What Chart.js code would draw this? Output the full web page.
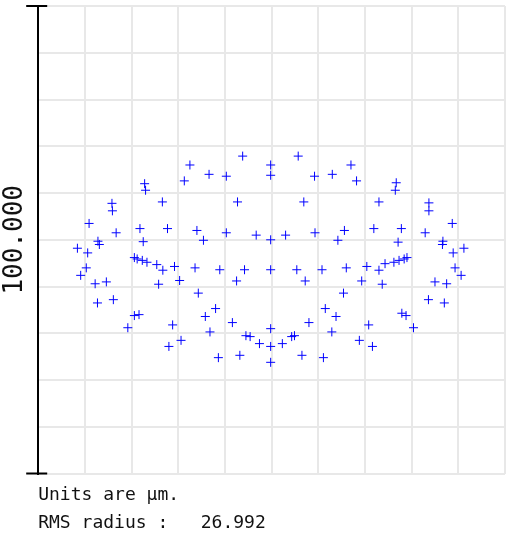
<!DOCTYPE html>
<html>
<head>
<meta charset="utf-8">
<script src="https://cdn.jsdelivr.net/npm/chart.js@4/dist/chart.umd.min.js"></script>
<style>
    body { margin: 0; background: #fff; }
</style>
</head>
<body>
<canvas id="spotDiagram" width="511" height="534"></canvas>
<script>
// spot positions in µm
const spotX = [
    -6.2, 5.7,
    -17.5, -0.2, 17.0,
    -13.4, 13.0,
    -9.7, 9.2,
    -0.2,
    -18.7, 18.2,
    -27.2, 26.7,
    -27.0, 26.5,
    -23.4, 23.0,
    -7.3, 6.9,
    -34.2, 33.7,
    -34.1, 33.7,
    -39.1, 38.7,
    -28.2, 27.8,
    -22.3, 21.9,
    -33.3, 32.9,
    -16.0, 15.6,
    -9.7, 9.3,
    -3.3, 3.0,
    -0.2,
    -14.6, 14.2,
    -27.5, 27.1,
    -37.2, 36.7,
    -36.9, 36.6,
    -41.6, 41.2,
    -39.4, 38.9,
    -29.4, 29.0,
    -28.8, 28.4,
    -27.7, 27.3,
    -26.7, 26.2,
    -24.6, 24.3,
    -23.3, 23.0,
    -20.8, 20.4,
    -16.4, 16.0,
    -11.1, 10.8,
    -5.8, 5.4,
    -0.2,
    -39.7, 39.3,
    -40.9, 40.6,
    -35.4, 35.0,
    -37.8, 37.5,
    -24.2, 23.7,
    -19.7, 19.3,
    -7.5, 7.2,
    -15.7, 15.4,
    -37.3, 37.0,
    -33.9, 33.6,
    -12.0, 11.5,
    -14.2, 13.8,
    -29.4, 28.8,
    -28.4, 27.9,
    -8.4, 8.0,
    -21.2, 20.8,
    -30.8, 30.4,
    -0.2,
    -13.2, 12.9,
    -5.5, 4.9,
    -4.6, 4.3,
    -2.6, 2.3,
    -0.2,
    -19.4, 18.8,
    -22.0, 21.6,
    -6.8, 6.5,
    -11.4, 11.1,
    -0.2
];
const spotY = [
    17.9, 17.9,
    16.0, 16.0, 16.0,
    14.0, 14.0,
    13.6, 13.6,
    13.8,
    12.6, 12.6,
    12.0, 12.2,
    10.6, 10.6,
    8.1, 8.1,
    8.1, 8.1,
    7.8, 7.9,
    6.2, 6.2,
    3.5, 3.5,
    2.4, 2.4,
    2.4, 2.4,
    1.5, 1.5,
    2.0, 2.0,
    1.5, 1.5,
    1.0, 1.0,
    0.0,
    -0.1, -0.1,
    -0.4, -0.5,
    -0.3, -0.3,
    -1.0, -1.0,
    -1.8, -1.8,
    -2.8, -2.8,
    -3.8, -3.8,
    -4.1, -4.1,
    -4.4, -4.4,
    -4.8, -4.8,
    -5.3, -5.1,
    -6.5, -6.5,
    -5.7, -5.7,
    -6.0, -6.0,
    -6.4, -6.4,
    -6.4, -6.4,
    -6.4,
    -6.0, -6.0,
    -7.6, -7.6,
    -9.0, -9.0,
    -9.4, -9.4,
    -9.5, -9.5,
    -8.7, -8.8,
    -8.8, -8.8,
    -11.4, -11.4,
    -13.5, -13.5,
    -12.8, -12.8,
    -14.7, -14.7,
    -16.4, -16.4,
    -16.2, -16.2,
    -16.0, -15.7,
    -17.7, -17.7,
    -18.2, -18.2,
    -18.8, -18.8,
    -19.0,
    -19.7, -19.7,
    -20.5, -20.5,
    -20.7, -20.7,
    -22.2, -22.2,
    -22.8,
    -21.5, -21.5,
    -22.8, -22.8,
    -24.7, -24.7,
    -25.2, -25.2,
    -26.2
];

const scaleBarLabel = '100.000';
const footerLines = ['Units are µm.', 'RMS radius :   26.992'];

iniciarDiagrama();

function iniciarDiagrama() {
    const ctx = document.getElementById('spotDiagram');

    const puntos = spotX.map((x, i) => ({x: x, y: spotY[i]}));

    // black scale bar caps at top and bottom of the left axis
    const capsPlugin = {
        id: 'caps',
        afterDraw(chart) {
            const {ctx, chartArea} = chart;
            ctx.save();
            ctx.strokeStyle = '#000';
            ctx.lineWidth = 2;
            ctx.beginPath();
            ctx.moveTo(chartArea.left - 12, chartArea.top);
            ctx.lineTo(chartArea.left + 9, chartArea.top);
            ctx.moveTo(chartArea.left - 12, chartArea.bottom);
            ctx.lineTo(chartArea.left + 9, chartArea.bottom);
            ctx.stroke();
            ctx.restore();
        }
    };

    new Chart(ctx, {
        type: 'scatter',
        data: {
            datasets: [{
                data: puntos,
                pointStyle: 'cross',
                pointRadius: 4.5,
                pointBorderWidth: 1,
                borderColor: 'rgb(0, 0, 255)',
                backgroundColor: 'rgb(0, 0, 255)'
            }]
        },
        options: {
            responsive: false,
            animation: false,
            layout: {
                padding: {top: 6, right: 6, left: 0, bottom: -4}
            },
            scales: {
                x: {
                    type: 'linear',
                    min: -50,
                    max: 50,
                    ticks: {display: false, stepSize: 10},
                    grid: {color: '#e8e8e8', lineWidth: 2, drawTicks: false},
                    border: {display: false}
                },
                y: {
                    type: 'linear',
                    min: -50,
                    max: 50,
                    ticks: {display: false, stepSize: 10},
                    grid: {color: '#e8e8e8', lineWidth: 2, drawTicks: false},
                    border: {display: true, color: '#000', width: 2},
                    title: {
                        display: true,
                        text: scaleBarLabel,
                        color: '#111',
                        font: {family: 'DejaVu Sans Mono', size: 26, weight: 'normal', lineHeight: 1.2},
                        padding: {top: 0, bottom: 7}
                    }
                }
            },
            plugins: {
                legend: {display: false},
                tooltip: {enabled: false},
                title: {
                    display: true,
                    position: 'bottom',
                    fullSize: false,
                    align: 'start',
                    text: footerLines,
                    color: '#111',
                    font: {family: 'DejaVu Sans Mono', size: 18, weight: 'normal', lineHeight: 1.58},
                    padding: {top: 7.5, bottom: 0}
                }
            }
        },
        plugins: [capsPlugin]
    });
}
</script>
</body>
</html>
